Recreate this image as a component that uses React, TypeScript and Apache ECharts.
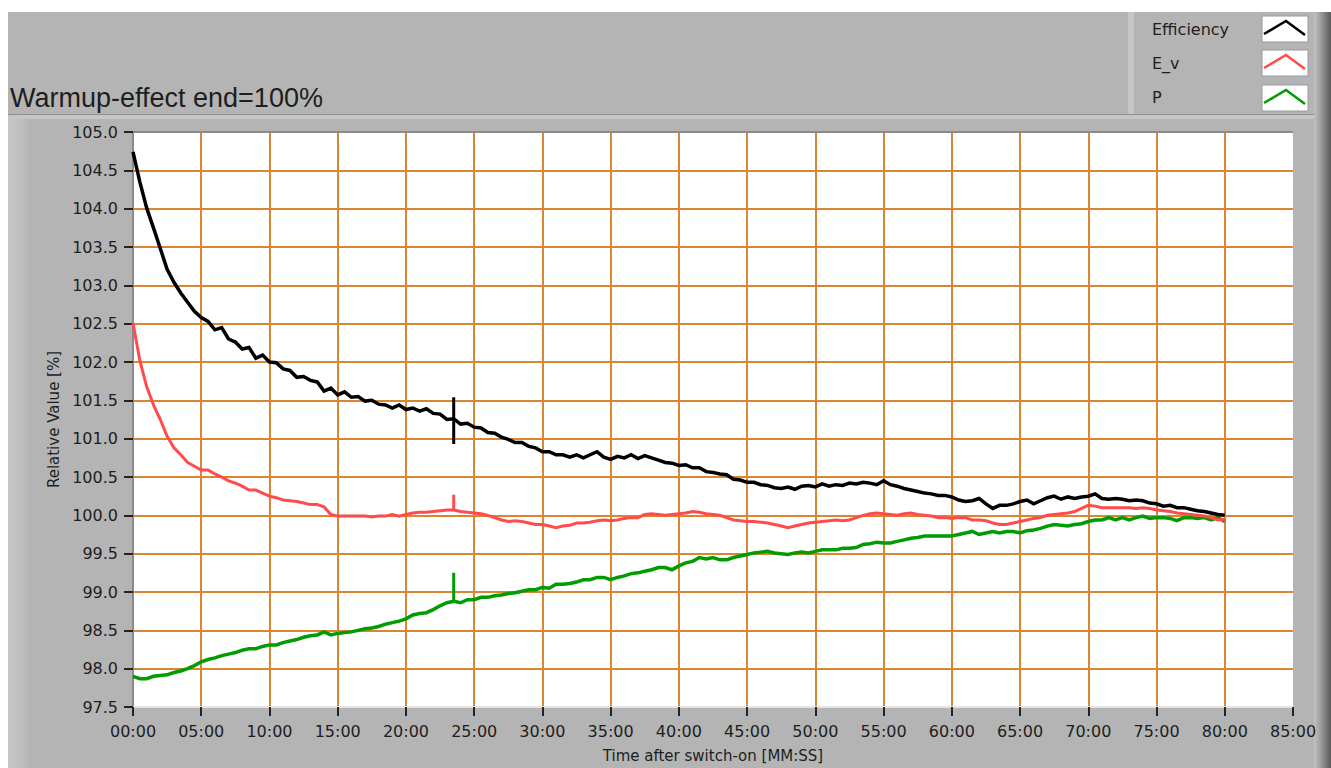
import React, { useEffect, useRef } from "react";
import * as echarts from "echarts";

// Sampling interval of the recorded values (minutes after switch-on)
const SAMPLE_MINUTES = 0.5;

const seriesNames = ["Efficiency", "E_v", "P"];
const seriesColors = ["#000000", "#FF4B4B", "#009C00"];
const seriesWidths = [3.5, 3, 3.5];

const chartTitle = "Warmup-effect end=100%";
const xAxisName = "Time after switch-on [MM:SS]";
const yAxisName = "Relative Value [%]";

const xMin = 0;
const xMax = 85;
const xStep = 5;
const yMin = 97.5;
const yMax = 105;
const yStep = 0.5;

// values every 0.5 min, 0:00 … 80:00 (10 values per row = 5 minutes)
const efficiency = [
  104.74, 104.35, 104.01, 103.75, 103.48, 103.21, 103.04, 102.90, 102.78, 102.66,
  102.58, 102.53, 102.42, 102.45, 102.30, 102.26, 102.17, 102.19, 102.05, 102.09,
  102.00, 101.99, 101.91, 101.89, 101.80, 101.81, 101.76, 101.74, 101.62, 101.66,
  101.57, 101.61, 101.54, 101.55, 101.49, 101.50, 101.45, 101.44, 101.40, 101.44,
  101.38, 101.40, 101.36, 101.39, 101.33, 101.32, 101.25, 101.26, 101.19, 101.20,
  101.15, 101.14, 101.08, 101.07, 101.02, 100.99, 100.95, 100.95, 100.90, 100.88,
  100.83, 100.83, 100.79, 100.79, 100.76, 100.79, 100.75, 100.79, 100.83, 100.76,
  100.73, 100.77, 100.75, 100.79, 100.74, 100.78, 100.75, 100.72, 100.69, 100.68,
  100.65, 100.66, 100.62, 100.62, 100.57, 100.56, 100.54, 100.53, 100.47, 100.46,
  100.43, 100.43, 100.40, 100.39, 100.36, 100.35, 100.37, 100.34, 100.38, 100.39,
  100.37, 100.41, 100.38, 100.40, 100.39, 100.42, 100.41, 100.43, 100.42, 100.40,
  100.45, 100.40, 100.38, 100.35, 100.33, 100.31, 100.29, 100.28, 100.26, 100.26,
  100.24, 100.20, 100.18, 100.19, 100.22, 100.15, 100.09, 100.13, 100.13, 100.15,
  100.18, 100.20, 100.15, 100.19, 100.23, 100.25, 100.21, 100.24, 100.22, 100.24,
  100.25, 100.28, 100.22, 100.21, 100.22, 100.21, 100.19, 100.20, 100.19, 100.16,
  100.15, 100.12, 100.13, 100.10, 100.10, 100.08, 100.06, 100.05, 100.03, 100.01,
  100.00,
];

const eV = [
  102.51, 102.02, 101.68, 101.44, 101.25, 101.03, 100.88, 100.79, 100.69, 100.64,
  100.59, 100.59, 100.54, 100.50, 100.45, 100.42, 100.38, 100.33, 100.33, 100.29,
  100.25, 100.23, 100.20, 100.19, 100.18, 100.16, 100.14, 100.14, 100.11, 100.01,
  99.99, 99.99, 99.99, 99.99, 99.99, 99.98, 99.99, 99.99, 100.01, 99.99,
  100.01, 100.03, 100.04, 100.04, 100.05, 100.06, 100.07, 100.07, 100.05, 100.04,
  100.03, 100.02, 100.00, 99.97, 99.94, 99.92, 99.93, 99.92, 99.90, 99.88,
  99.88, 99.86, 99.84, 99.86, 99.87, 99.90, 99.90, 99.91, 99.93, 99.94,
  99.93, 99.94, 99.96, 99.97, 99.97, 100.01, 100.02, 100.01, 100.00, 100.01,
  100.02, 100.03, 100.05, 100.04, 100.02, 100.01, 100.00, 99.97, 99.94, 99.93,
  99.92, 99.92, 99.91, 99.90, 99.88, 99.86, 99.84, 99.86, 99.88, 99.90,
  99.91, 99.92, 99.93, 99.94, 99.93, 99.94, 99.97, 100.00, 100.02, 100.03,
  100.02, 100.01, 100.00, 100.02, 100.03, 100.01, 100.00, 99.99, 99.97, 99.97,
  99.96, 99.97, 99.97, 99.94, 99.94, 99.93, 99.90, 99.88, 99.88, 99.90,
  99.92, 99.94, 99.96, 99.97, 100.00, 100.01, 100.02, 100.03, 100.05, 100.09,
  100.13, 100.12, 100.10, 100.10, 100.10, 100.10, 100.10, 100.09, 100.10, 100.09,
  100.07, 100.06, 100.05, 100.03, 100.02, 100.01, 100.00, 99.99, 99.97, 99.94,
  99.95,
];

const power = [
  97.90, 97.87, 97.87, 97.90, 97.91, 97.92, 97.95, 97.97, 98.00, 98.04,
  98.09, 98.12, 98.14, 98.17, 98.19, 98.21, 98.24, 98.26, 98.26, 98.29,
  98.31, 98.31, 98.34, 98.36, 98.38, 98.41, 98.43, 98.44, 98.48, 98.44,
  98.46, 98.47, 98.48, 98.50, 98.52, 98.53, 98.55, 98.58, 98.60, 98.62,
  98.65, 98.70, 98.72, 98.73, 98.77, 98.82, 98.86, 98.88, 98.86, 98.90,
  98.90, 98.93, 98.93, 98.95, 98.96, 98.98, 98.99, 99.01, 99.03, 99.03,
  99.06, 99.05, 99.10, 99.10, 99.11, 99.13, 99.16, 99.16, 99.19, 99.19,
  99.16, 99.19, 99.21, 99.24, 99.25, 99.27, 99.29, 99.32, 99.32, 99.29,
  99.34, 99.38, 99.40, 99.45, 99.43, 99.45, 99.42, 99.42, 99.45, 99.47,
  99.49, 99.51, 99.52, 99.53, 99.51, 99.50, 99.49, 99.51, 99.52, 99.51,
  99.53, 99.55, 99.55, 99.55, 99.57, 99.57, 99.58, 99.62, 99.63, 99.65,
  99.64, 99.64, 99.66, 99.68, 99.70, 99.71, 99.73, 99.73, 99.73, 99.73,
  99.73, 99.75, 99.77, 99.79, 99.75, 99.77, 99.79, 99.77, 99.79, 99.79,
  99.77, 99.80, 99.81, 99.83, 99.86, 99.88, 99.87, 99.86, 99.88, 99.89,
  99.92, 99.94, 99.94, 99.97, 99.94, 99.97, 99.94, 99.97, 99.99, 99.96,
  99.97, 99.97, 99.96, 99.93, 99.97, 99.97, 99.96, 99.97, 99.94, 99.97,
  99.92,
];

// short disturbance at 23:30 visible in all three traces
const spikeMinute = 23.5;
const efficiencySpike = [101.54, 100.93];
const eVSpike = [100.27, 100.07];
const powerSpike = [99.25, 98.88];

const FONT = "DejaVu Sans";
const GRID_COLOR = "#DB8431";
const PANEL = "#B4B4B4";

function toPairs(values: number[]) {
  return values.map((v, i) => [i * SAMPLE_MINUTES, v]);
}

function pad2(n: number) {
  const s = String(Math.round(n));
  return s.length < 2 ? "0" + s : s;
}

export default function App() {
  const ref = useRef<HTMLDivElement>(null);

  useEffect(() => {
    if (!ref.current) return;
    const chart = echarts.init(ref.current, undefined, { renderer: "svg" });

    const traces = [efficiency, eV, power];
    const spikes = [efficiencySpike, eVSpike, powerSpike];

    const lineSeries: any[] = [];
    // draw order: P, E_v, Efficiency (Efficiency on top)
    [2, 1, 0].forEach((k) => {
      lineSeries.push({
        name: seriesNames[k],
        type: "line",
        data: toPairs(traces[k]),
        showSymbol: false,
        symbol: "none",
        lineStyle: { color: seriesColors[k], width: seriesWidths[k], join: "miter" },
        z: 3 + (2 - k),
      });
      lineSeries.push({
        name: seriesNames[k] + " spike",
        type: "line",
        data: spikes[k].map((v) => [spikeMinute, v]),
        showSymbol: false,
        symbol: "none",
        lineStyle: { color: seriesColors[k], width: 3 },
        z: 3 + (2 - k),
      });
    });

    const legendRows = [
      { y: 29, boxY: 16, chev: [[1264, 34], [1286, 21], [1305, 35]] },
      { y: 63, boxY: 50, chev: [[1264, 68], [1286, 55], [1305, 69]] },
      { y: 97, boxY: 85, chev: [[1264, 103], [1286, 90], [1305, 104]] },
    ];

    const graphics: any[] = [
      // panel background
      { type: "rect", z: -10, shape: { x: 8, y: 12, width: 1310, height: 756 }, style: { fill: PANEL } },
      {
        type: "rect",
        z: -9,
        shape: { x: 1314, y: 12, width: 17, height: 756 },
        style: {
          fill: new echarts.graphic.LinearGradient(0, 0, 1, 0, [
            { offset: 0, color: "#C2C2C2" },
            { offset: 0.3, color: "#A6A6A6" },
            { offset: 1, color: "#5A5A5A" },
          ]),
        },
      },
      // inner panel edges
      { type: "rect", z: -9, shape: { x: 8, y: 115, width: 1306, height: 4 }, style: { fill: "#C6C6C6" } },
      { type: "line", z: -8, shape: { x1: 8, y1: 114.5, x2: 1314, y2: 114.5 }, style: { stroke: "#8E8E8E", lineWidth: 1 } },
      {
        type: "rect",
        z: -9,
        shape: { x: 8, y: 119, width: 20, height: 649 },
        style: {
          fill: new echarts.graphic.LinearGradient(0, 0, 1, 0, [
            { offset: 0, color: "#C8C8C8" },
            { offset: 1, color: "#B8B8B8" },
          ]),
        },
      },
      // legend panel edge
      { type: "rect", z: -8, shape: { x: 1128, y: 12, width: 6, height: 102 }, style: { fill: "#C6C6C6" } },
      // title
      {
        type: "text",
        x: 10,
        y: 98,
        z: 10,
        style: {
          text: chartTitle,
          fontFamily: "Liberation Sans",
          fontSize: 27,
          fill: "#1E1E1E",
          verticalAlign: "middle",
        },
      },
      // plot frame top edge
      { type: "line", z: 10, shape: { x1: 133, y1: 132, x2: 1293, y2: 132 }, style: { stroke: "#8A8A8A", lineWidth: 2 } },
    ];

    legendRows.forEach((row, k) => {
      graphics.push({
        type: "text",
        x: 1152,
        y: row.y,
        z: 10,
        style: { text: seriesNames[k], fontFamily: FONT, fontSize: 16, fill: "#1E1E1E", verticalAlign: "middle" },
      });
      graphics.push({
        type: "rect",
        z: 10,
        shape: { x: 1262, y: row.boxY, width: 46, height: 26 },
        style: { fill: "#FFFFFF", stroke: "#9A9A9A", lineWidth: 1 },
      });
      graphics.push({
        type: "polyline",
        z: 11,
        shape: { points: row.chev },
        style: { stroke: seriesColors[k], lineWidth: 2.5, fill: null },
      });
    });

    chart.setOption({
      animation: false,
      backgroundColor: "#FFFFFF",
      grid: {
        left: 133,
        top: 132,
        width: 1160,
        height: 579,
        show: true,
        backgroundColor: "#FFFFFF",
        borderWidth: 0,
        containLabel: false,
      },
      xAxis: {
        type: "value",
        min: xMin,
        max: xMax,
        interval: xStep,
        name: xAxisName,
        nameLocation: "middle",
        nameGap: 41,
        nameTextStyle: { fontFamily: FONT, fontSize: 15, color: "#1E1E1E" },
        axisLine: { show: true, lineStyle: { color: "#E4E4E4", width: 2 } },
        axisTick: { show: true, length: 9, lineStyle: { color: "#222222", width: 2 } },
        axisLabel: {
          margin: 16,
          fontFamily: FONT,
          fontSize: 16,
          color: "#1E1E1E",
          formatter: (v: number) => pad2(v) + ":00",
        },
        splitLine: {
          show: true,
          showMinLine: false,
          showMaxLine: false,
          lineStyle: { color: GRID_COLOR, width: 2 },
        },
      },
      yAxis: {
        type: "value",
        min: yMin,
        max: yMax,
        interval: yStep,
        name: yAxisName,
        nameLocation: "middle",
        nameRotate: 90,
        nameGap: 68,
        nameTextStyle: { fontFamily: FONT, fontSize: 15, color: "#1E1E1E" },
        axisLine: { show: true, lineStyle: { color: "#8A8A8A", width: 2 } },
        axisTick: { show: true, length: 9, lineStyle: { color: "#222222", width: 2 } },
        axisLabel: {
          margin: 15,
          fontFamily: FONT,
          fontSize: 16,
          color: "#1E1E1E",
          formatter: (v: number) => v.toFixed(1),
        },
        splitLine: {
          show: true,
          showMinLine: false,
          showMaxLine: false,
          lineStyle: { color: GRID_COLOR, width: 2 },
        },
      },
      graphic: { elements: graphics },
      series: lineSeries,
    });

    return () => chart.dispose();
  }, []);

  return (
    <div
      ref={ref}
      style={{ position: "absolute", left: 0, top: 0, width: 1331, height: 768 }}
    />
  );
}
